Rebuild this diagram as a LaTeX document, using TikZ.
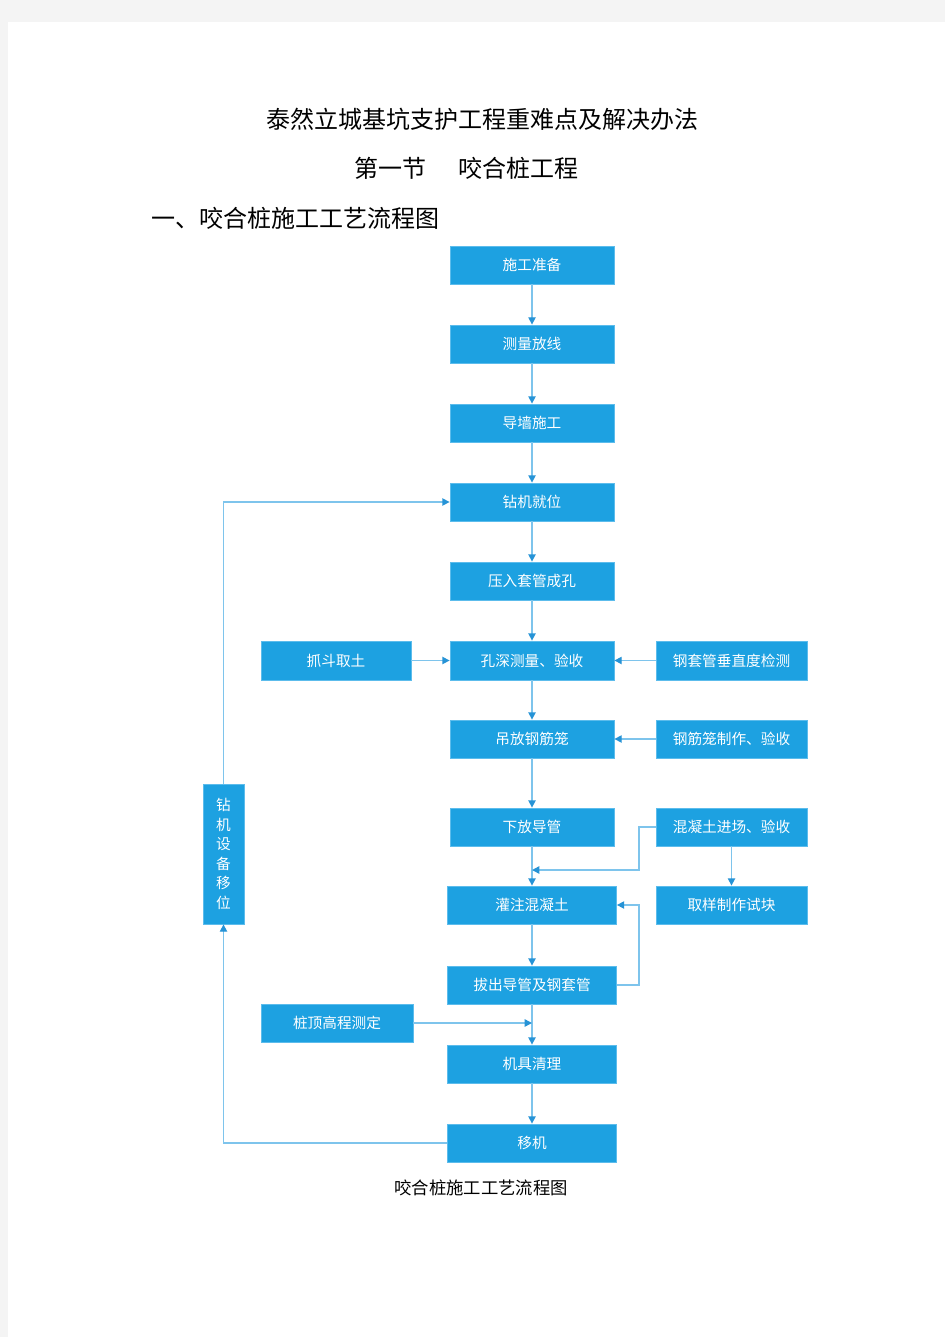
\documentclass[tikz,border=0pt]{standalone}
\usepackage{fontspec}
\setmainfont{Noto Sans CJK SC}
\newfontfamily\cjk{Noto Sans CJK SC}
\usetikzlibrary{arrows.meta}
\definecolor{boxblue}{HTML}{1DA1E1}
\definecolor{boxedge}{HTML}{5CBCEC}
\definecolor{linkblue}{HTML}{7EC4EC}
\definecolor{tipblue}{HTML}{2693D6}
\definecolor{pagegray}{HTML}{F4F4F4}
\tikzset{
  box/.style={draw=boxedge, line width=0.6pt, fill=boxblue, text=white,
    inner sep=0pt, minimum height=28.5pt, font=\cjk\fontsize{11}{13}\selectfont},
  wmain/.style={minimum width=123pt},
  wwide/.style={minimum width=126.75pt},
  wside/.style={minimum width=113.25pt},
  link/.style={draw=linkblue, line width=1.1pt},
  arr/.style={link, -{Triangle[width=5.5pt,length=5.5pt,color=tipblue]}},
  title/.style={font=\cjk\fontsize{18}{22}\selectfont, text=black, inner sep=0pt}
}
\begin{document}
\begin{tikzpicture}[x=0.75pt,y=-0.75pt]
\useasboundingbox (0,0) rectangle (945,1337);
\fill[pagegray] (0,0) rectangle (945,1337);
\fill[white] (8,22) rectangle (945,1337);

% titles
\node[title] (t1) at (482,119) {泰然立城基坑支护工程重难点及解决办法};
\node[title, anchor=west] (t2) at (354,168) {第一节\hspace{24pt}咬合桩工程};
\node[title, anchor=west] (t3) at (151,218) {一、咬合桩施工工艺流程图};
\node[font=\cjk\fontsize{13}{15}\selectfont, inner sep=0pt] (cap) at (481,1188) {咬合桩施工工艺流程图};

% main column
\node[box, wmain] (A) at (532,265) {施工准备};
\node[box, wmain] (B) at (532,344) {测量放线};
\node[box, wmain] (C) at (532,423) {导墙施工};
\node[box, wmain] (D) at (532,502) {钻机就位};
\node[box, wmain] (E) at (532,581) {压入套管成孔};
\node[box, wmain, minimum height=29.25pt] (F) at (532,660.5) {孔深测量、验收};
\node[box, wmain] (I) at (532,739) {吊放钢筋笼};
\node[box, wmain] (K) at (532,827) {下放导管};
\node[box, wwide] (M) at (532,905) {灌注混凝土};
\node[box, wwide] (O) at (532,985) {拔出导管及钢套管};
\node[box, wwide] (Q) at (532,1064) {机具清理};
\node[box, wwide] (R) at (532,1143) {移机};

% side boxes
\node[box, minimum width=112.5pt, minimum height=29.25pt] (G) at (336,660.5) {抓斗取土};
\node[box, wside, minimum height=29.25pt] (H) at (731.5,660.5) {钢套管垂直度检测};
\node[box, wside] (J) at (731.5,739) {钢筋笼制作、验收};
\node[box, wside] (L) at (731.5,827) {混凝土进场、验收};
\node[box, wside] (N) at (731.5,905) {取样制作试块};
\node[box, minimum width=114pt] (P) at (337,1023) {桩顶高程测定};
\node[box, minimum width=30.75pt, minimum height=105pt, align=center,
      font=\cjk\fontsize{11}{14.6}\selectfont] (S) at (223.5,854)
      {钻\\机\\设\\备\\移\\位};

% vertical flow
\draw[arr] (A) -- (B);
\draw[arr] (B) -- (C);
\draw[arr] (C) -- (D);
\draw[arr] (D) -- (E);
\draw[arr] (E) -- (F);
\draw[arr] (F) -- (I);
\draw[arr] (I) -- (K);
\draw[arr] (K) -- (M);
\draw[arr] (M) -- (O);
\draw[arr] (O) -- (Q);
\draw[arr] (Q) -- (R);

% side inputs
\draw[arr] (G) -- (F);
\draw[arr] (H) -- (F);
\draw[arr] (J) -- (I);
\draw[arr] (L) -- (N);
\coordinate (c1) at (532,870);
\draw[arr] (L.west) -- (639,827) -- (639,870) -- (c1);
\draw[arr] (O.east) -- (639,985) -- (639,905) -- (M.east);
\coordinate (c2) at (532,1023);
\draw[arr] (P.east) -- (c2);

% return loop
\draw[arr] (R.west) -- (R.west -| S.south) -- (S.south);
\draw[arr] (S.north) -- (S.north |- D.west) -- (D.west);
\end{tikzpicture}
\end{document}
